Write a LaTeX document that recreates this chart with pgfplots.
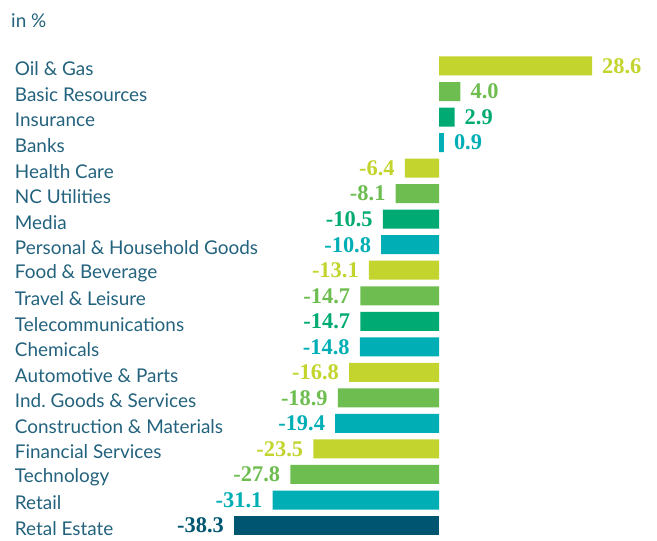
\documentclass[border=0pt]{standalone}
\usepackage{fontspec}
\setmainfont{Lato}
\newfontfamily\valfont{Liberation Serif}
\usepackage{pgfplots}
\pgfplotsset{compat=1.18}
\frenchspacing
\definecolor{ygreen}{RGB}{194,212,45}
\definecolor{lgreen}{RGB}{110,189,80}
\definecolor{tgreen}{RGB}{0,170,115}
\definecolor{cyanb}{RGB}{0,174,181}
\definecolor{dblue}{RGB}{0,86,112}
\definecolor{labtxt}{RGB}{35,98,125}

\begin{document}
\begin{tikzpicture}
\begin{axis}[
  name=ax,
  width=657bp, height=541bp, scale only axis,
  xmin=-82.06, xmax=40.75,
  ymin=-2.585, ymax=18.605,
  y dir=reverse,
  xbar, bar width=19bp, bar shift=0pt,
  axis line style={draw=none},
  tick style={draw=none},
  xtick=\empty,
  ytick={0,...,18},
  yticklabels={Oil \& Gas, Basic Resources, Insurance, Banks, Health Care,
    NC Utilities, Media, Personal \& Household Goods, Food \& Beverage,
    Travel \& Leisure, Telecommunications, Chemicals, Automotive \& Parts,
    Ind.\ Goods \& Services, Construction \& Materials, Financial Services,
    Technology, Retail, Retal Estate},
  yticklabel style={anchor=west, inner sep=0pt, xshift=19bp, yshift=-3bp,
    font=\fontsize{19}{22}\selectfont, text=labtxt},
  point meta=x,
  nodes near coords,
  nodes near coords align={horizontal},
  every node near coord/.append style={font=\valfont\bfseries\fontsize{22.5}{24}\selectfont,
    inner xsep=10bp, inner ysep=0pt},
  /pgf/number format/.cd, fixed, fixed zerofill, precision=1, assume math mode=true,
]
\addplot[fill=ygreen, draw=none, nodes near coords style={text=ygreen}]
  coordinates {(28.6,0) (-6.4,4) (-13.1,8) (-16.8,12) (-23.5,15)};
\addplot[fill=lgreen, draw=none, nodes near coords style={text=lgreen}]
  coordinates {(4.0,1) (-8.1,5) (-14.7,9) (-18.9,13) (-27.8,16)};
\addplot[fill=tgreen, draw=none, nodes near coords style={text=tgreen}]
  coordinates {(2.9,2) (-10.5,6) (-14.7,10)};
\addplot[fill=cyanb, draw=none, nodes near coords style={text=cyanb}]
  coordinates {(0.9,3) (-10.8,7) (-14.8,11) (-19.4,14) (-31.1,17)};
\addplot[fill=dblue, draw=none, nodes near coords style={text=dblue}]
  coordinates {(-38.3,18)};
\node[anchor=west, inner sep=0pt, text=labtxt, font=\fontsize{19}{22}\selectfont]
  at (axis cs:-80.0,-1.78) {in \%};
\end{axis}
\pgfresetboundingbox
\path (ax.south west) rectangle (ax.north east);
\end{tikzpicture}
\end{document}
